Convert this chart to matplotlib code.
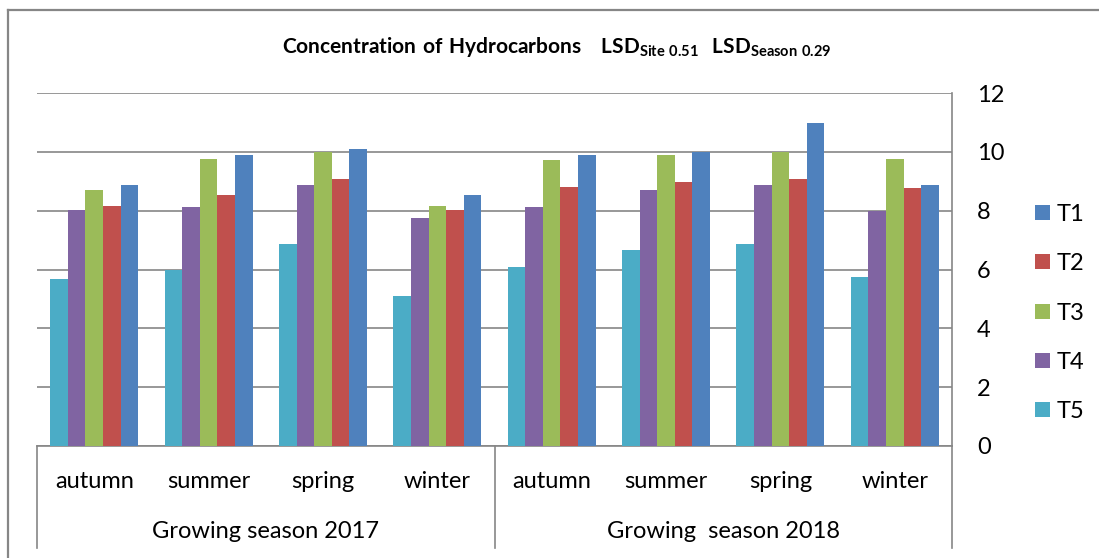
import numpy as np
import matplotlib
matplotlib.use("Agg")
import matplotlib.pyplot as plt
from matplotlib.patches import Patch

plt.rcParams['font.family'] = ['Lato', 'DejaVu Sans']
plt.rcParams['mathtext.fontset'] = 'custom'
plt.rcParams['mathtext.rm'] = 'Lato'
plt.rcParams['mathtext.bf'] = 'Lato:bold'

# datos
seasons = ['autumn', 'summer', 'spring', 'winter', 'autumn', 'summer', 'spring', 'winter']
years = ['Growing season 2017', 'Growing  season 2018']
series = ['T1', 'T2', 'T3', 'T4', 'T5']
T1 = [8.88, 9.89, 10.10, 8.52, 9.89, 9.98, 10.98, 8.88]
T2 = [8.17, 8.52, 9.09, 8.02, 8.80, 8.97, 9.09, 8.76]
T3 = [8.71, 9.75, 9.98, 8.17, 9.72, 9.89, 9.98, 9.75]
T4 = [8.02, 8.14, 8.88, 7.74, 8.14, 8.71, 8.88, 8.00]
T5 = [5.69, 6.00, 6.87, 5.11, 6.07, 6.65, 6.87, 5.73]
colores = ['#4F81BD', '#C0504D', '#9BBB59', '#8064A2', '#4BACC6']

W, H = 1099, 558
fig = plt.figure(figsize=(W/100, H/100), dpi=100)
gris = '#868686'
fs = 17

# marco exterior
fig.add_artist(plt.Line2D([8/W, 8/W], [0, 1-10/H], color=gris, lw=1.6, transform=fig.transFigure))
fig.add_artist(plt.Line2D([8/W, 1], [1-10/H, 1-10/H], color=gris, lw=1.6, transform=fig.transFigure))

ax = fig.add_axes([37/W, (H-446)/H, (952-37)/W, (446-93)/H])
x = np.arange(len(seasons))
w = 0.154
datos = [T1, T2, T3, T4, T5]
for k in range(5):
    off = (2 - k) * w
    ax.bar(x + off, datos[k], w, color=colores[k], zorder=3)

ax.set_xlim(-0.5, 7.5)
ax.set_ylim(0, 12)
ax.set_yticks(np.arange(0, 13, 2))
ax.yaxis.tick_right()
ax.tick_params(axis='y', length=0, pad=18, labelsize=fs)
for t in ax.get_yticklabels():
    t.set_horizontalalignment('left')
ax.set_xticks([])
ax.grid(axis='y', color=gris, lw=1.2, zorder=0)
for s in ['left', 'top']:
    ax.spines[s].set_visible(False)
for s in ['right', 'bottom']:
    ax.spines[s].set_color(gris)
    ax.spines[s].set_linewidth(1.2)

# separadores del eje de categorias
trans = ax.get_xaxis_transform()
for xs in [-0.5, 3.5, 7.5]:
    ax.plot([xs, xs], [0, -0.289], color=gris, lw=1.2, transform=trans, clip_on=False)
for i, s in enumerate(seasons):
    ax.text(x[i], -0.10, s, transform=trans, ha='center', va='center', fontsize=fs)
ax.text(1.5, -0.243, years[0], transform=trans, ha='center', va='center', fontsize=fs)
ax.text(5.5, -0.243, years[1], transform=trans, ha='center', va='center', fontsize=fs)

titulo = r'$\mathbf{Concentration\ of\ Hydrocarbons\ \ \ LSD_{Site\ 0.51}\ \ LSD_{Season\ 0.29}}$'
fig.text(557/W, 1-47/H, titulo, ha='center', va='center', fontsize=15)

handles = [Patch(facecolor=colores[k], label=series[k]) for k in range(5)]
fig.legend(handles=handles, loc='center left', bbox_to_anchor=(1026/W, 1-313/H),
           frameon=False, fontsize=fs, handlelength=0.6, handleheight=0.6,
           handletextpad=0.3, labelspacing=1.2, borderaxespad=0)

fig.savefig('out.png', dpi=100)
